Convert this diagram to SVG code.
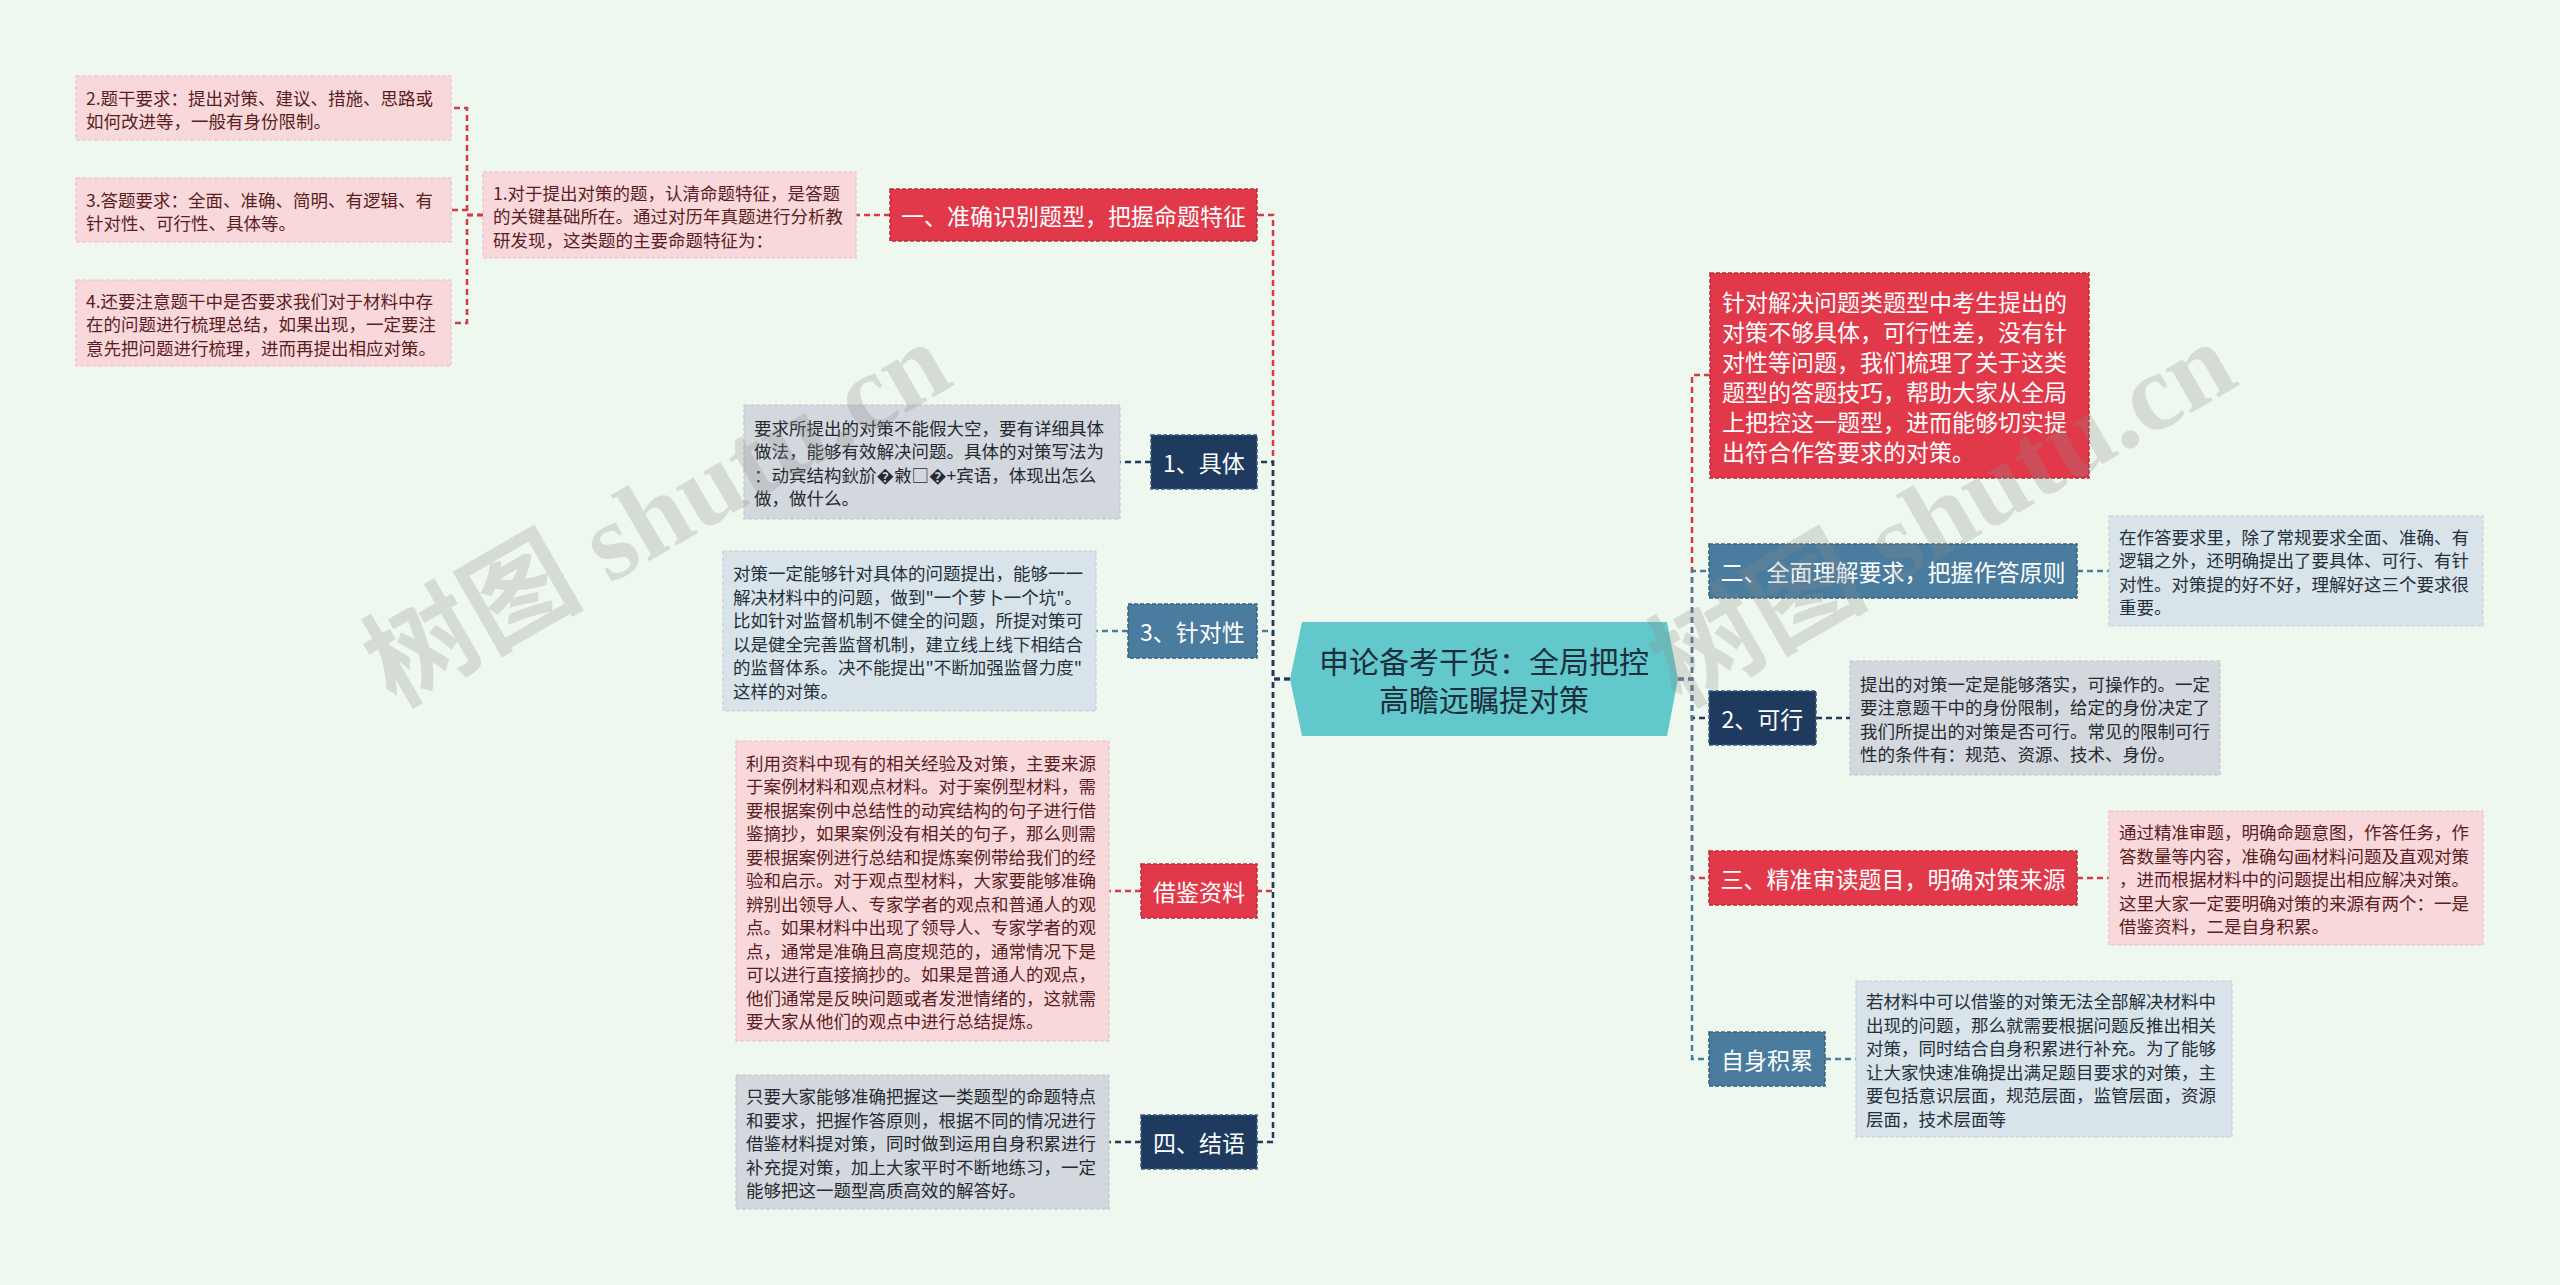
<svg xmlns="http://www.w3.org/2000/svg" width="2560" height="1285" viewBox="0 0 2560 1285">
<style>
text{font-family:"Noto Sans CJK SC","Noto Sans",sans-serif}
.d{font-size:17.5px;dominant-baseline:central}
.dp{fill:#5a1e22}
.dg{fill:#262a30}
.db{fill:#26303a}
.n{font-size:23px;fill:#ffffff;dominant-baseline:central;text-anchor:middle}
.r0{font-size:23px;fill:#ffffff;dominant-baseline:central}
.bp{fill:#f9d8dc;stroke:#efbcc3;stroke-width:1.2;stroke-dasharray:4 2}
.bg{fill:#d3d8de;stroke:#bfc6ce;stroke-width:1.2;stroke-dasharray:4 2}
.bb{fill:#d9e3ea;stroke:#c3d0da;stroke-width:1.2;stroke-dasharray:4 2}
.nr{fill:#e2394a;stroke:#b92a39;stroke-width:1.5;stroke-dasharray:4 2}
.nn{fill:#1e3a5f;stroke:#3d5a7e;stroke-width:1.5;stroke-dasharray:4 2}
.ns{fill:#497c9e;stroke:#36627f;stroke-width:1.5;stroke-dasharray:4 2}
.c{fill:none;stroke-width:2.5;stroke-dasharray:6 4}
.cr{stroke:#d8394a}
.cn{stroke:#1e3a5f}
.cs{stroke:#497c9e}
.wm{font-family:"Liberation Serif","Noto Sans CJK SC",serif;font-size:110px;font-weight:bold;fill:#8c8c8c;fill-opacity:0.26}
</style>
<rect x="0" y="0" width="2560" height="1285" fill="#eff8ee"/>

<g id="connectors">
  <!-- left side -->
  <path class="c cr" d="M1290,679 H1273 V215 H1257"/>
  <path class="c cr" d="M1290,679 H1273 V891 H1257"/>
  <path class="c cs" d="M1290,679 H1273 V631 H1257"/>
  <path class="c cn" d="M1290,679 H1273 V462 H1257"/>
  <path class="c cn" d="M1290,679 H1273 V1142 H1257"/>
  <path class="c cr" d="M890,215 H856"/>
  <path class="c cr" d="M483,215 H467 V108 H451"/>
  <path class="c cr" d="M483,215 H467 V210 H451"/>
  <path class="c cr" d="M483,215 H467 V323 H451"/>
  <path class="c cn" d="M1151,462 H1120"/>
  <path class="c cs" d="M1128,631 H1096"/>
  <path class="c cr" d="M1141,891 H1109"/>
  <path class="c cn" d="M1141,1142 H1109"/>
  <!-- right side -->
  <path class="c cr" d="M1678,679 H1692 V375 H1710"/>
  <path class="c cr" d="M1678,679 H1692 V878 H1709"/>
  <path class="c cn" d="M1678,679 H1692 V718 H1709"/>
  <path class="c cs" d="M1678,679 H1692 V571 H1709"/>
  <path class="c cs" d="M1678,679 H1692 V1059 H1709"/>
  <path class="c cs" d="M2077,571 H2109"/>
  <path class="c cn" d="M1816,718 H1850"/>
  <path class="c cr" d="M2077,878 H2109"/>
  <path class="c cs" d="M1825,1059 H1856"/>
</g>

<g id="center">
  <polygon points="1290,679 1302,622 1667,622 1678,679 1667,736 1302,736" fill="#62c8cc"/>
  <text x="1484" y="660" font-size="30" fill="#1c2e3b" text-anchor="middle" dominant-baseline="central">申论备考干货：全局把控</text>
  <text x="1484" y="698" font-size="30" fill="#1c2e3b" text-anchor="middle" dominant-baseline="central">高瞻远瞩提对策</text>
</g>

<g id="a2">
  <rect class="bp" x="76" y="76" width="375" height="64"/>
  <text class="d dp" x="86"><tspan x="86" y="96.5">2.题干要求：提出对策、建议、措施、思路或</tspan><tspan x="86" y="120">如何改进等，一般有身份限制。</tspan></text>
</g>
<g id="a3">
  <rect class="bp" x="76" y="178" width="375" height="64"/>
  <text class="d dp"><tspan x="86" y="198.5">3.答题要求：全面、准确、简明、有逻辑、有</tspan><tspan x="86" y="222">针对性、可行性、具体等。</tspan></text>
</g>
<g id="a4">
  <rect class="bp" x="76" y="280" width="375" height="86"/>
  <text class="d dp"><tspan x="86" y="299.5">4.还要注意题干中是否要求我们对于材料中存</tspan><tspan x="86" y="323">在的问题进行梳理总结，如果出现，一定要注</tspan><tspan x="86" y="346.5">意先把问题进行梳理，进而再提出相应对策。</tspan></text>
</g>
<g id="a1">
  <rect class="bp" x="483" y="172" width="373" height="86"/>
  <text class="d dp"><tspan x="493" y="191.5">1.对于提出对策的题，认清命题特征，是答题</tspan><tspan x="493" y="215">的关键基础所在。通过对历年真题进行分析教</tspan><tspan x="493" y="238.5">研发现，这类题的主要命题特征为：</tspan></text>
</g>
<g id="n1">
  <rect class="nr" x="890" y="189" width="367" height="52"/>
  <text class="n" x="1073.5" y="215">一、准确识别题型，把握命题特征</text>
</g>

<g id="n-juti">
  <rect class="nn" x="1151" y="435" width="106" height="54"/>
  <text class="n" x="1204" y="462">1、具体</text>
</g>
<g id="d-juti">
  <rect class="bg" x="744" y="405" width="376" height="114"/>
  <text class="d dg"><tspan x="754" y="426.75">要求所提出的对策不能假大空，要有详细具体</tspan><tspan x="754" y="450.25">做法，能够有效解决问题。具体的对策写法为</tspan><tspan x="754" y="473.75">：动宾结构鈥斺�敹□�+宾语，体现出怎么</tspan><tspan x="754" y="497.25">做，做什么。</tspan></text>
</g>

<g id="n-zhendui">
  <rect class="ns" x="1128" y="604" width="129" height="54"/>
  <text class="n" x="1192.5" y="631">3、针对性</text>
</g>
<g id="d-zhendui">
  <rect class="bb" x="723" y="551" width="373" height="160"/>
  <text class="d db"><tspan x="733" y="572.25">对策一定能够针对具体的问题提出，能够一一</tspan><tspan x="733" y="595.75">解决材料中的问题，做到"一个萝卜一个坑"。</tspan><tspan x="733" y="619.25">比如针对监督机制不健全的问题，所提对策可</tspan><tspan x="733" y="642.75">以是健全完善监督机制，建立线上线下相结合</tspan><tspan x="733" y="666.25">的监督体系。决不能提出"不断加强监督力度"</tspan><tspan x="733" y="689.75">这样的对策。</tspan></text>
</g>

<g id="n-jiejian">
  <rect class="nr" x="1141" y="864" width="116" height="54"/>
  <text class="n" x="1199" y="891">借鉴资料</text>
</g>
<g id="d-jiejian">
  <rect class="bp" x="736" y="741" width="373" height="300"/>
  <text class="d dp"><tspan x="746" y="761.75">利用资料中现有的相关经验及对策，主要来源</tspan><tspan x="746" y="785.25">于案例材料和观点材料。对于案例型材料，需</tspan><tspan x="746" y="808.75">要根据案例中总结性的动宾结构的句子进行借</tspan><tspan x="746" y="832.25">鉴摘抄，如果案例没有相关的句子，那么则需</tspan><tspan x="746" y="855.75">要根据案例进行总结和提炼案例带给我们的经</tspan><tspan x="746" y="879.25">验和启示。对于观点型材料，大家要能够准确</tspan><tspan x="746" y="902.75">辨别出领导人、专家学者的观点和普通人的观</tspan><tspan x="746" y="926.25">点。如果材料中出现了领导人、专家学者的观</tspan><tspan x="746" y="949.75">点，通常是准确且高度规范的，通常情况下是</tspan><tspan x="746" y="973.25">可以进行直接摘抄的。如果是普通人的观点，</tspan><tspan x="746" y="996.75">他们通常是反映问题或者发泄情绪的，这就需</tspan><tspan x="746" y="1020.25">要大家从他们的观点中进行总结提炼。</tspan></text>
</g>

<g id="n-jieyu">
  <rect class="nn" x="1141" y="1115" width="116" height="54"/>
  <text class="n" x="1199" y="1142">四、结语</text>
</g>
<g id="d-jieyu">
  <rect class="bg" x="736" y="1075" width="373" height="134"/>
  <text class="d dg"><tspan x="746" y="1095">只要大家能够准确把握这一类题型的命题特点</tspan><tspan x="746" y="1118.5">和要求，把握作答原则，根据不同的情况进行</tspan><tspan x="746" y="1142">借鉴材料提对策，同时做到运用自身积累进行</tspan><tspan x="746" y="1165.5">补充提对策，加上大家平时不断地练习，一定</tspan><tspan x="746" y="1189">能够把这一题型高质高效的解答好。</tspan></text>
</g>

<g id="r0">
  <rect class="nr" x="1710" y="273" width="379" height="205"/>
  <text class="r0"><tspan x="1722" y="300.5">针对解决问题类题型中考生提出的</tspan><tspan x="1722" y="330.5">对策不够具体，可行性差，没有针</tspan><tspan x="1722" y="360.5">对性等问题，我们梳理了关于这类</tspan><tspan x="1722" y="390.5">题型的答题技巧，帮助大家从全局</tspan><tspan x="1722" y="420.5">上把控这一题型，进而能够切实提</tspan><tspan x="1722" y="450.5">出符合作答要求的对策。</tspan></text>
</g>

<g id="n-er">
  <rect class="ns" x="1709" y="544" width="368" height="54"/>
  <text class="n" x="1893" y="571">二、全面理解要求，把握作答原则</text>
</g>
<g id="d-er">
  <rect class="bb" x="2109" y="516" width="374" height="110"/>
  <text class="d db"><tspan x="2119" y="535.75">在作答要求里，除了常规要求全面、准确、有</tspan><tspan x="2119" y="559.25">逻辑之外，还明确提出了要具体、可行、有针</tspan><tspan x="2119" y="582.75">对性。对策提的好不好，理解好这三个要求很</tspan><tspan x="2119" y="606.25">重要。</tspan></text>
</g>

<g id="n-kexing">
  <rect class="nn" x="1709" y="691" width="107" height="54"/>
  <text class="n" x="1762.5" y="718">2、可行</text>
</g>
<g id="d-kexing">
  <rect class="bg" x="1850" y="661" width="370" height="114"/>
  <text class="d dg"><tspan x="1860" y="682.75">提出的对策一定是能够落实，可操作的。一定</tspan><tspan x="1860" y="706.25">要注意题干中的身份限制，给定的身份决定了</tspan><tspan x="1860" y="729.75">我们所提出的对策是否可行。常见的限制可行</tspan><tspan x="1860" y="753.25">性的条件有：规范、资源、技术、身份。</tspan></text>
</g>

<g id="n-san">
  <rect class="nr" x="1709" y="851" width="368" height="54"/>
  <text class="n" x="1893" y="878">三、精准审读题目，明确对策来源</text>
</g>
<g id="d-san">
  <rect class="bp" x="2109" y="811" width="374" height="134"/>
  <text class="d dp"><tspan x="2119" y="831">通过精准审题，明确命题意图，作答任务，作</tspan><tspan x="2119" y="854.5">答数量等内容，准确勾画材料问题及直观对策</tspan><tspan x="2119" y="878">，进而根据材料中的问题提出相应解决对策。</tspan><tspan x="2119" y="901.5">这里大家一定要明确对策的来源有两个：一是</tspan><tspan x="2119" y="925">借鉴资料，二是自身积累。</tspan></text>
</g>

<g id="n-zishen">
  <rect class="ns" x="1709" y="1032" width="116" height="54"/>
  <text class="n" x="1767" y="1059">自身积累</text>
</g>
<g id="d-zishen">
  <rect class="bb" x="1856" y="981" width="376" height="156"/>
  <text class="d db"><tspan x="1866" y="1000.25">若材料中可以借鉴的对策无法全部解决材料中</tspan><tspan x="1866" y="1023.75">出现的问题，那么就需要根据问题反推出相关</tspan><tspan x="1866" y="1047.25">对策，同时结合自身积累进行补充。为了能够</tspan><tspan x="1866" y="1070.75">让大家快速准确提出满足题目要求的对策，主</tspan><tspan x="1866" y="1094.25">要包括意识层面，规范层面，监管层面，资源</tspan><tspan x="1866" y="1117.75">层面，技术层面等</tspan></text>
</g>

<g id="watermark">
  <text class="wm" x="395" y="708" transform="rotate(-30 395 708)">树图 shutu.cn</text>
  <text class="wm" x="1680" y="708" transform="rotate(-30 1680 708)">树图 shutu.cn</text>
</g>
</svg>
